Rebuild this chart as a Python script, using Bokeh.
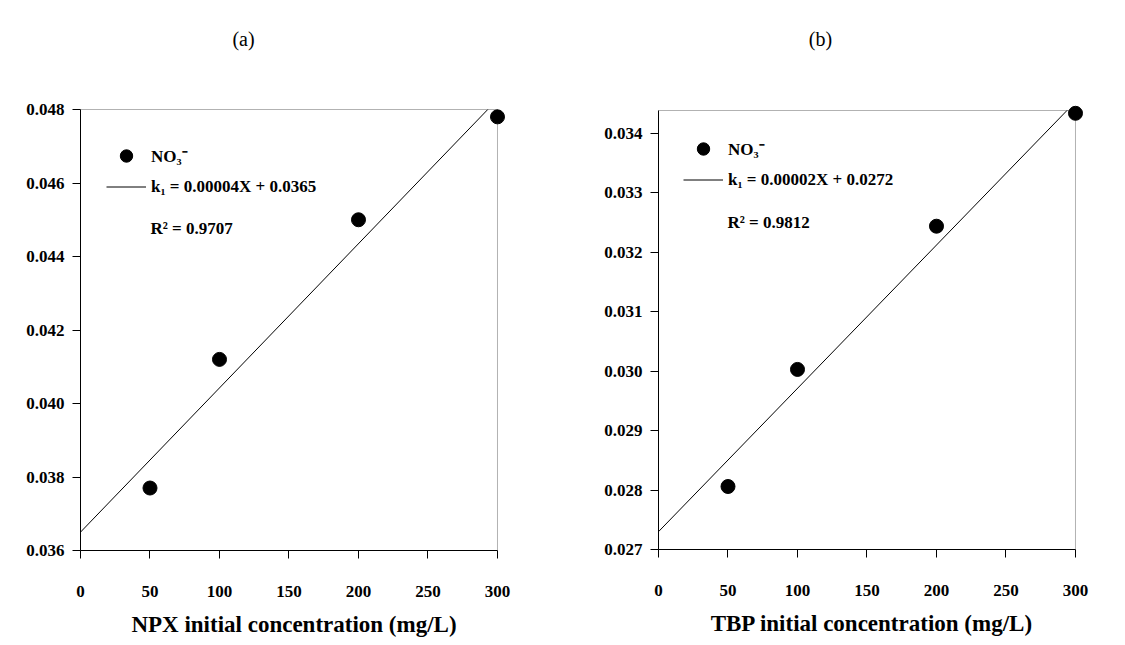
from bokeh.plotting import figure
from bokeh.layouts import row
from bokeh.models import (Range1d, FixedTicker, NumeralTickFormatter, Label, Legend,
                          LegendItem, BoxAnnotation)
from bokeh.embed import file_html
from bokeh.resources import INLINE

# ---------------- data ----------------
conc = [50, 100, 200, 300]
k1_npx = [0.0377, 0.0412, 0.0450, 0.0478]
k1_tbp = [0.02806, 0.03003, 0.03244, 0.03434]

fit_x_npx = [0, 293]
fit_y_npx = [0.0365, 0.0480]
fit_x_tbp = [0, 294]
fit_y_tbp = [0.0273, 0.03439]

x_ticks = [0, 50, 100, 150, 200, 250, 300]
y_ticks_npx = [0.036, 0.038, 0.040, 0.042, 0.044, 0.046, 0.048]
y_ticks_tbp = [0.027, 0.028, 0.029, 0.030, 0.031, 0.032, 0.033, 0.034]

titles = ["(a)", "(b)"]
x_labels = ["NPX initial concentration (mg/L)", "TBP initial concentration (mg/L)"]
series_label = "NO\u2083\u207b"
eq_labels = ["k\u2081 = 0.00004X + 0.0365", "k\u2081 = 0.00002X + 0.0272"]
r2_labels = ["R\u00b2 = 0.9707", "R\u00b2 = 0.9812"]

FONT = "Liberation Serif"


def make_panel(xs, ys, fx, fy, yticks, ybox_top, yend, title, xlabel, eq, r2,
               fw, fh, bl, br, bt, bb, title_xy, legend_loc, r2_xy):
    p = figure(title=None, frame_width=fw, frame_height=fh, min_border_left=bl,
               min_border_right=br, min_border_top=bt, min_border_bottom=bb,
               output_backend="svg", toolbar_location=None, x_range=Range1d(0, 307.2),
               y_range=Range1d(yticks[0], yend))
    p.outline_line_color = None
    p.background_fill_color = "white"
    p.border_fill_color = "white"
    p.xgrid.visible = False
    p.ygrid.visible = False

    box = BoxAnnotation(left=0, right=300, bottom=yticks[0], top=ybox_top,
                        fill_color=None, fill_alpha=0, line_color="black", line_width=1)
    p.add_layout(box)

    p.xaxis.ticker = FixedTicker(ticks=x_ticks)
    p.yaxis.ticker = FixedTicker(ticks=yticks)
    p.yaxis.formatter = NumeralTickFormatter(format="0.000")
    p.xaxis.bounds = (0, 300)
    p.yaxis.bounds = (yticks[0], ybox_top)
    for ax in (p.xaxis, p.yaxis):
        ax.major_tick_out = 8
        ax.major_tick_in = 0
        ax.minor_tick_line_color = None
        ax.axis_line_color = "black"
        ax.major_tick_line_color = "black"
        ax.major_label_text_font = FONT
        ax.major_label_text_font_style = "bold"
        ax.major_label_text_font_size = "17px"
        ax.major_label_text_color = "black"
    p.yaxis.major_label_standoff = 8
    p.xaxis.major_label_standoff = 27
    p.xaxis.axis_label = xlabel
    p.xaxis.axis_label_text_font = FONT
    p.xaxis.axis_label_text_font_style = "bold"
    p.xaxis.axis_label_text_font_size = "23px"
    p.xaxis.axis_label_text_color = "black"
    p.xaxis.axis_label_standoff = 12

    ln = p.line(fx, fy, line_color="black", line_width=1)
    sc = p.scatter(xs, ys, size=14, marker="circle", fill_color="black", line_color="black")

    legend = Legend(items=[LegendItem(label=series_label, renderers=[sc]),
                           LegendItem(label=eq, renderers=[ln])],
                    location=legend_loc, glyph_width=40, glyph_height=31,
                    label_standoff=5, padding=0, spacing=0, margin=0,
                    border_line_color=None, background_fill_alpha=0,
                    label_text_font=FONT, label_text_font_style="bold",
                    label_text_font_size="17px", label_text_color="black")
    p.add_layout(legend)

    p.add_layout(Label(x=r2_xy[0], y=r2_xy[1], x_units="screen", y_units="screen",
                       text=r2, text_font=FONT, text_font_style="bold",
                       text_font_size="17px", text_color="black",
                       text_align="left", text_baseline="middle"))
    p.add_layout(Label(x=title_xy[0], y=title_xy[1], x_units="screen", y_units="screen",
                       text=title, text_font=FONT, text_font_size="20px",
                       text_color="black", text_align="center", text_baseline="middle"))
    return p


pa = make_panel(conc, k1_npx, fit_x_npx, fit_y_npx, y_ticks_npx, 0.048, 0.050422,
                titles[0], x_labels[0], eq_labels[0], r2_labels[0],
                427, 530, 80, 53, 20, 95, (163, 512), (26, 348), (70, 322))
pb = make_panel(conc, k1_tbp, fit_x_tbp, fit_y_tbp, y_ticks_tbp, 0.034387, 0.0359015,
                titles[1], x_labels[1], eq_labels[1], r2_labels[1],
                427, 529, 98, 40, 20, 96, (162, 511), (25, 354), (69, 327))

layout = row(pa, pb, spacing=0)
open("out.html", "w").write(file_html(layout, INLINE))
